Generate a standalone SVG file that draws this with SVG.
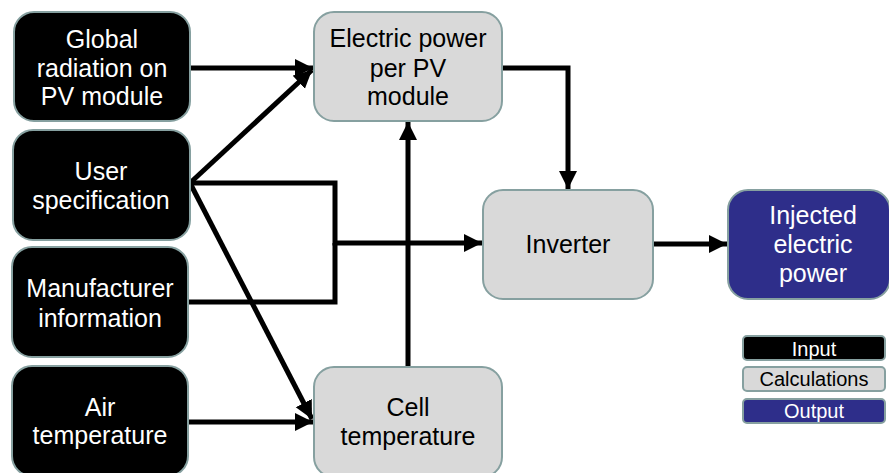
<svg xmlns="http://www.w3.org/2000/svg" width="889" height="473" viewBox="0 0 889 473">
<style>
.in{fill:#000;stroke:#86a0a0;stroke-width:2}
.calc{fill:#d9d9d9;stroke:#86a0a0;stroke-width:2}
.out{fill:#2e2e8a;stroke:#86a0a0;stroke-width:2}
text{font-family:"Liberation Sans",Arial,sans-serif;font-size:25px;text-anchor:middle}
.w{fill:#fff}
.k{fill:#000}
.lg{font-size:20px}
.c{fill:none;stroke:#000;stroke-width:5}
</style>
<defs>
<marker id="ah" markerUnits="userSpaceOnUse" markerWidth="20" markerHeight="20" refX="18" refY="9" orient="auto">
<path d="M0,0 L18,9 L0,18 z" fill="#000"/>
</marker>
</defs>
<g id="connectors">
<line class="c" x1="190" y1="68" x2="313" y2="68" marker-end="url(#ah)"/>
<line class="c" x1="190" y1="183" x2="312" y2="70" marker-end="url(#ah)"/>
<line class="c" x1="190" y1="183" x2="312" y2="419" marker-end="url(#ah)"/>
<line class="c" x1="188" y1="422" x2="313" y2="422" marker-end="url(#ah)"/>
<polyline class="c" points="190,183 335,183 335,243 482,243" marker-end="url(#ah)"/>
<polyline class="c" points="188,302 335,302 335,243"/>
<line class="c" x1="408" y1="367" x2="408" y2="122" marker-end="url(#ah)"/>
<polyline class="c" points="502,68 568,68 568,189" marker-end="url(#ah)"/>
<line class="c" x1="653" y1="244" x2="727" y2="244" marker-end="url(#ah)"/>
</g>
<g id="global">
<rect class="in" x="14" y="12" width="176" height="109" rx="20"/>
<text class="w" x="102" y="48">Global</text>
<text class="w" x="102" y="77">radiation on</text>
<text class="w" x="102" y="105">PV module</text>
</g>
<g id="user">
<rect class="in" x="13" y="130" width="177" height="110" rx="20"/>
<text class="w" x="101" y="180">User</text>
<text class="w" x="101" y="209">specification</text>
</g>
<g id="manufacturer">
<rect class="in" x="12" y="247" width="176" height="110" rx="20"/>
<text class="w" x="100" y="297">Manufacturer</text>
<text class="w" x="100" y="327">information</text>
</g>
<g id="air">
<rect class="in" x="12" y="366" width="176" height="110" rx="20"/>
<text class="w" x="100" y="416">Air</text>
<text class="w" x="100" y="444">temperature</text>
</g>
<g id="electric">
<rect class="calc" x="314" y="12" width="188" height="109" rx="20"/>
<text class="k" x="408" y="47">Electric power</text>
<text class="k" x="408" y="77">per PV</text>
<text class="k" x="408" y="105">module</text>
</g>
<g id="cell">
<rect class="calc" x="314" y="367" width="188" height="110" rx="20"/>
<text class="k" x="408" y="416">Cell</text>
<text class="k" x="408" y="445">temperature</text>
</g>
<g id="inverter">
<rect class="calc" x="483" y="190" width="170" height="109" rx="20"/>
<text class="k" x="568" y="253">Inverter</text>
</g>
<g id="injected">
<rect class="out" x="728" y="190" width="162" height="109" rx="20"/>
<text class="w" x="813" y="224">Injected</text>
<text class="w" x="813" y="253">electric</text>
<text class="w" x="813" y="282">power</text>
</g>
<g id="legend">
<rect class="in" x="743" y="336" width="142" height="24" rx="4"/>
<text class="w lg" x="814" y="356">Input</text>
<rect class="calc" x="743" y="367" width="142" height="24" rx="4"/>
<text class="k lg" x="814" y="386">Calculations</text>
<rect class="out" x="743" y="399" width="142" height="24" rx="4"/>
<text class="w lg" x="814" y="418">Output</text>
</g>
</svg>
